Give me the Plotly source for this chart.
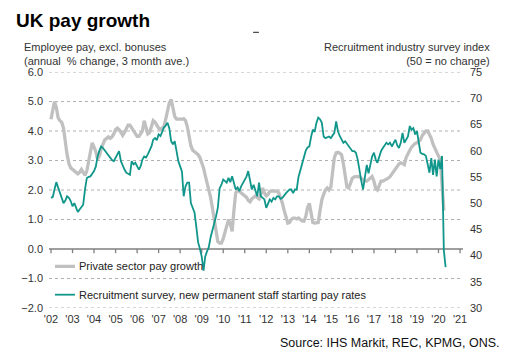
import pandas as pd
import plotly.graph_objects as go

# ---- data ----
months_pay = pd.date_range("2002-01-01", periods=220, freq="MS")
months_rec = pd.date_range("2002-01-01", periods=221, freq="MS")

private_pay = [
    4.4, 4.7, 5.0, 4.8, 4.45, 4.35, 4.3, 4.1, 3.6, 3.2, 2.9, 2.75,      # 2002
    2.7, 2.65, 2.6, 2.55, 2.6, 2.7, 2.6, 2.5, 2.65, 2.95, 3.3, 3.6,     # 2003
    3.45, 3.3, 3.05, 3.15, 3.4, 3.6, 3.7, 3.75, 3.8, 3.75, 3.8, 3.9,    # 2004
    4.05, 4.1, 4.05, 3.95, 3.85, 3.95, 4.1, 4.2, 4.2, 4.1, 4.0, 3.9,    # 2005
    3.82, 3.82, 3.9, 4.0, 4.35, 4.1, 3.9, 3.95, 4.15, 4.35, 4.3, 4.2,   # 2006
    4.1, 4.05, 4.1, 4.15, 4.4, 4.7, 4.95, 5.07, 4.8, 4.5, 4.4, 4.4,     # 2007
    4.38, 4.4, 4.42, 4.35, 4.15, 3.85, 3.5, 3.35, 3.3, 3.25, 3.2, 3.1,  # 2008
    2.95, 2.75, 2.5, 2.25, 2.0, 1.75, 1.4, 1.0, 0.5, 0.25, 0.2, 0.2,    # 2009
    0.35, 0.6, 0.8, 1.0, 0.85, 0.6, 1.3, 1.9, 2.0, 1.95, 1.9, 1.85,     # 2010
    1.8, 1.75, 1.65, 1.6, 1.7, 1.75, 1.8, 1.75, 1.7, 1.85, 2.07, 1.9,   # 2011
    1.8, 1.85, 1.95, 1.97, 1.97, 1.95, 1.96, 1.9, 1.75, 1.55, 1.3, 1.05,  # 2012
    0.88, 0.9, 1.0, 1.05, 1.05, 1.02, 1.05, 1.0, 0.95, 0.94, 1.1, 1.4,  # 2013
    1.55, 1.2, 0.9, 0.88, 0.88, 0.9, 1.3, 1.67, 1.85, 2.0, 2.07, 2.0,   # 2014
    2.1, 2.6, 3.1, 3.26, 3.28, 3.25, 3.2, 2.9, 2.5, 2.1, 2.07, 2.2,     # 2015
    2.4, 2.45, 2.46, 2.46, 2.44, 2.4, 2.35, 2.3, 2.3, 2.35, 2.42, 2.46,  # 2016
    2.3, 2.05, 2.0, 2.2, 2.3, 2.3, 2.33, 2.35, 2.4, 2.45, 2.55, 2.63,   # 2017
    2.7, 2.8, 2.88, 2.92, 2.9, 2.86, 3.1, 3.26, 3.35, 3.45, 3.54, 3.58,  # 2018
    3.6, 3.65, 3.7, 3.85, 3.95, 4.0, 4.0, 3.9, 3.75, 3.55, 3.4, 3.25,   # 2019
    3.15, 3.05, 2.2, 1.3,                                               # 2020
]

recruit_index = [
    51.0, 51.2, 52.6, 54.0, 53.0, 52.0, 51.0, 50.0, 50.5, 51.3, 51.0, 50.4,  # 2002
    49.4, 50.0, 49.2, 48.3, 48.8, 49.2, 49.7, 52.6, 54.8, 55.0, 55.1, 55.6,  # 2003
    56.1, 57.0, 58.9, 60.0, 60.8, 60.5, 60.0, 59.6, 59.0, 58.6, 58.2, 58.0,  # 2004
    58.6, 59.3, 59.9, 58.0, 57.0, 56.4, 55.8, 55.6, 55.4, 58.0, 57.4, 57.7,  # 2005
    57.0, 56.4, 57.0, 58.3, 58.9, 58.7, 59.3, 60.0, 60.8, 62.1, 62.4, 62.0,  # 2006
    63.1, 62.8, 63.6, 64.4, 64.8, 65.3, 64.3, 61.8, 61.2, 61.8, 59.9, 58.0,  # 2007
    57.0, 56.0, 51.3, 53.2, 53.9, 53.9, 50.0, 49.2, 48.2, 45.5, 42.5, 41.3,  # 2008
    39.8, 37.1, 39.8, 40.8, 41.6, 43.5, 44.7, 45.8, 47.5, 49.1, 52.8, 53.5,  # 2009
    54.5, 54.2, 53.9, 54.8, 54.0, 55.1, 53.9, 52.6, 53.0, 52.3, 53.2, 53.8,  # 2010
    54.5, 55.1, 56.1, 54.2, 52.6, 53.5, 52.3, 51.3, 53.9, 51.3, 51.0, 50.7,  # 2011
    49.1, 50.0, 50.7, 50.3, 51.0, 50.7, 51.3, 51.3, 50.8, 51.0, 51.6, 51.9,  # 2012
    52.3, 52.6, 52.6, 51.9, 52.6, 52.6, 55.0, 56.2, 57.8, 58.8, 60.0, 60.6,  # 2013
    60.8, 62.7, 64.0, 63.6, 65.3, 66.3, 66.0, 65.3, 62.7, 62.4, 62.5, 62.7,  # 2014
    62.4, 63.0, 63.4, 65.6, 63.7, 62.8, 62.1, 61.5, 61.8, 61.3, 60.8, 60.2,  # 2015
    59.9, 59.9, 59.6, 58.3, 56.0, 54.2, 52.6, 55.4, 57.3, 55.7, 57.5, 58.9,  # 2016
    59.6, 58.3, 57.7, 58.9, 59.9, 60.5, 61.0, 61.5, 61.2, 61.5, 60.8, 61.5,  # 2017
    62.1, 61.0, 60.5, 61.5, 63.4, 61.5, 62.0, 62.7, 64.7, 64.0, 64.3, 63.1,  # 2018
    63.7, 61.5, 59.6, 59.4, 59.3, 59.0, 57.5, 55.8, 58.6, 55.4, 58.3, 55.1,  # 2019
    58.3, 56.5, 59.0, 41.0, 37.8,                                            # 2020
]

year_ticks = [f"{y}-01-01" for y in range(2002, 2022)]
year_labels = ["'" + str(y)[2:] for y in range(2002, 2022)]
left_ticks = [-2, -1, 0, 1, 2, 3, 4, 5, 6]
right_ticks = [30, 35, 40, 45, 50, 55, 60, 65, 70, 75]

GREY = "#c0c0c0"
TEAL = "#10968a"
TXT = "#333333"
AXIS = "#7f7f7f"
FONT = "Liberation Sans, Arial, sans-serif"
X_RANGE = ["2001-11-28", "2021-02-20"]
Y_RANGE = [-2, 6]

fig = go.Figure()

# gridlines (dotted) and zero line drawn as line traces on the left axis
grid_x, grid_y = [], []
for v in left_ticks:
    if v != 0:
        grid_x += [X_RANGE[0], X_RANGE[1], None]
        grid_y += [v, v, None]
fig.add_trace(go.Scatter(x=grid_x, y=grid_y, mode="lines", hoverinfo="skip",
                         showlegend=False, cliponaxis=False,
                         line=dict(color="#b0b0b0", width=1.2, dash="dot")))
fig.add_trace(go.Scatter(x=[X_RANGE[0], X_RANGE[1]], y=[0, 0], mode="lines",
                         hoverinfo="skip", showlegend=False,
                         line=dict(color=AXIS, width=1.3)))
tick_x, tick_y = [], []
for t in year_ticks:
    tick_x += [t, t, None]
    tick_y += [0, -0.14, None]
fig.add_trace(go.Scatter(x=tick_x, y=tick_y, mode="lines", hoverinfo="skip",
                         showlegend=False, line=dict(color=AXIS, width=1.3)))

fig.add_trace(go.Scatter(
    x=months_pay, y=private_pay, mode="lines", name="Private sector pay growth",
    line=dict(color=GREY, width=3.3), yaxis="y", showlegend=False,
))
fig.add_trace(go.Scatter(
    x=months_rec, y=recruit_index, mode="lines",
    name="Recruitment survey, new permanent staff starting pay rates",
    line=dict(color=TEAL, width=1.8), yaxis="y2", showlegend=False,
))

fig.update_layout(
    width=516, height=364, autosize=False,
    margin=dict(l=49, r=53, t=72, b=56),
    paper_bgcolor="white", plot_bgcolor="white",
    font=dict(family=FONT, size=11, color=TXT),
    xaxis=dict(type="date", range=X_RANGE, tickmode="array", tickvals=year_ticks,
               ticktext=year_labels, showgrid=False, showline=False, zeroline=False,
               ticks="", ticklabelstandoff=3, tickfont=dict(size=11, color=TXT)),
    yaxis=dict(range=Y_RANGE, tickmode="array", tickvals=left_ticks, tickformat=".1f",
               showgrid=False, zeroline=False, showline=False, ticks="",
               ticklabelstandoff=5, tickfont=dict(size=11, color=TXT)),
    yaxis2=dict(range=[30, 75], tickmode="array", tickvals=right_ticks, overlaying="y",
                side="right", anchor="x", showgrid=False, zeroline=False, showline=False,
                ticks="", ticklabelstandoff=6, tickfont=dict(size=11, color=TXT)),
)

# title
fig.add_annotation(text="<b>UK pay growth</b>", xref="paper", yref="paper",
                   x=-0.0845, y=1.218, xanchor="left", yanchor="middle", showarrow=False,
                   font=dict(family=FONT, size=19, color="#000000"))
# axis titles
fig.add_annotation(text="Employee pay, excl. bonuses<br>(annual  % change, 3 month ave.)",
                   xref="paper", yref="paper", x=-0.065, y=1.0763, xanchor="left",
                   yanchor="middle", align="left", showarrow=False,
                   font=dict(size=11, color=TXT))
fig.add_annotation(text="Recruitment industry survey index<br>(50 = no change)",
                   xref="paper", yref="paper", x=1.070, y=1.0763, xanchor="right",
                   yanchor="middle", align="right", showarrow=False,
                   font=dict(size=11, color=TXT))
# source
fig.add_annotation(text="Source: IHS Markit, REC, KPMG, ONS.", xref="paper", yref="paper",
                   x=1.094, y=-0.147, xanchor="right", yanchor="middle", showarrow=False,
                   font=dict(size=12.5, color="#111111"))

# manual legend
legend_items = [("Private sector pay growth", GREY, 3.3, 0.1764),
                ("Recruitment survey, new permanent staff starting pay rates", TEAL, 1.8, 0.0564)]
for label, col, w, yy in legend_items:
    fig.add_shape(type="line", xref="paper", yref="paper", x0=0.0145, x1=0.0628,
                  y0=yy, y1=yy, line=dict(color=col, width=w))
    fig.add_annotation(text=label, xref="paper", yref="paper", x=0.0665, y=yy,
                       xanchor="left", yanchor="middle", showarrow=False,
                       font=dict(size=11, color="#222222"))

# small dash near the top of the reference
fig.add_shape(type="line", xref="paper", yref="paper", x0=0.493, x1=0.507,
              y0=1.168, y1=1.168, line=dict(color="#444444", width=1.2))

fig.write_html("out.html", config={"displayModeBar": False},
               post_script="document.body.style.margin='0';")
